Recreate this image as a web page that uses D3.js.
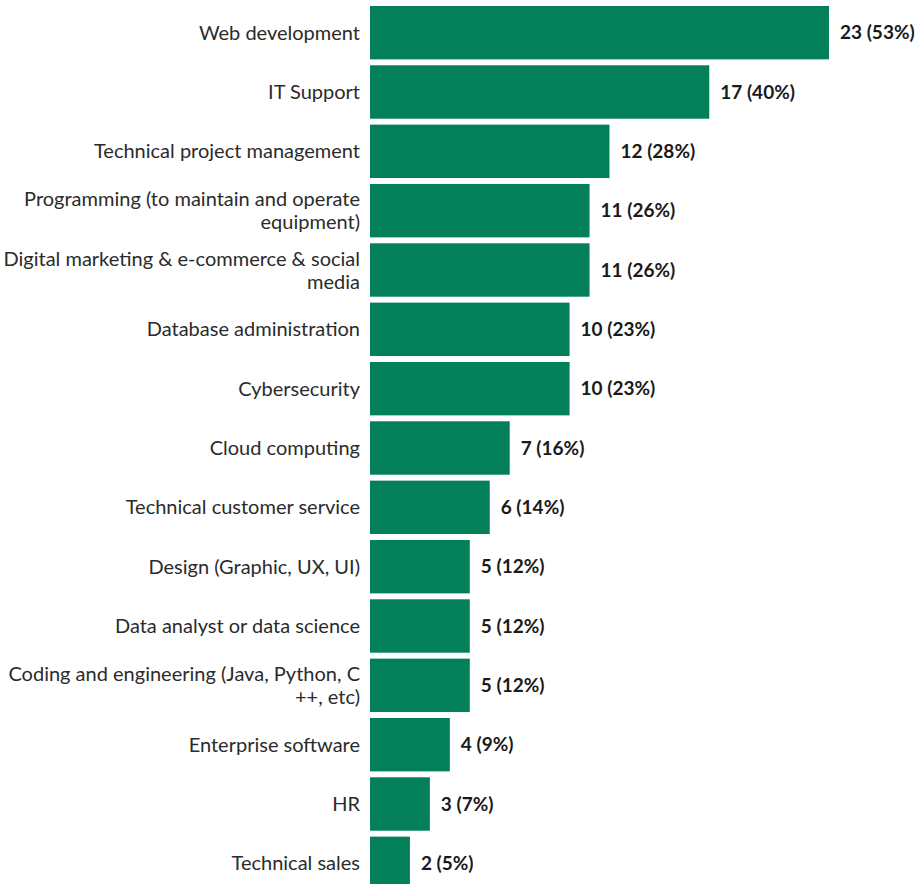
<!DOCTYPE html>
<html>
<head>
<meta charset="utf-8">
<script src="https://cdn.jsdelivr.net/npm/d3@7"></script>
<style>
  html, body { margin: 0; padding: 0; background: #fff; }
  svg { display: block; }
  text { font-family: Lato, "Noto Sans", sans-serif; }
</style>
</head>
<body>
<svg id="chart" width="919" height="884"></svg>
<script>
// Skill areas (label lines separated by "\n"), counts and shares
const categories = [
  "Web development",
  "IT Support",
  "Technical project management",
  "Programming (to maintain and operate\nequipment)",
  "Digital marketing & e-commerce & social\nmedia",
  "Database administration",
  "Cybersecurity",
  "Cloud computing",
  "Technical customer service",
  "Design (Graphic, UX, UI)",
  "Data analyst or data science",
  "Coding and engineering (Java, Python, C\n++, etc)",
  "Enterprise software",
  "HR",
  "Technical sales"
];
const counts = [23, 17, 12, 11, 11, 10, 10, 7, 6, 5, 5, 5, 4, 3, 2];
const percents = [53, 40, 28, 26, 26, 23, 23, 16, 14, 12, 12, 12, 9, 7, 5];

const data = categories.map((c, i) => ({ cat: c, count: counts[i], pct: percents[i] }));

const svg = d3.select("#chart");
const barColor = "#037f5a";

const x = d3.scaleLinear().domain([0, 23]).range([370, 829]);
const y = d3.scaleBand()
  .domain(categories)
  .range([3, 893])
  .paddingInner(0.1)
  .paddingOuter(0.05);

// bars
svg.append("g")
  .selectAll("rect")
  .data(data)
  .join("rect")
  .attr("x", x(0))
  .attr("y", d => y(d.cat))
  .attr("width", d => x(d.count) - x(0))
  .attr("height", y.bandwidth())
  .attr("fill", barColor);

// category labels on the left
const fontSize = 20;
const lineH = 23;
const labels = svg.append("g")
  .selectAll("text")
  .data(data)
  .join("text")
  .attr("text-anchor", "end")
  .attr("font-size", fontSize)
  .attr("fill", "#2b2b2b")
  .attr("x", x(0) - 10);

labels.each(function(d) {
  const lines = d.cat.split("\n");
  const cy = y(d.cat) + y.bandwidth() / 2;
  const first = cy - (lines.length - 1) * lineH / 2;
  const t = d3.select(this);
  lines.forEach((ln, k) => {
    t.append("tspan")
      .attr("x", x(0) - 10)
      .attr("y", first + k * lineH)
      .attr("dy", "0.35em")
      .text(ln);
  });
});

// value labels at bar ends
svg.append("g")
  .selectAll("text")
  .data(data)
  .join("text")
  .attr("x", d => x(d.count) + 11)
  .attr("y", d => y(d.cat) + y.bandwidth() / 2)
  .attr("dy", "0.35em")
  .attr("font-size", 19)
  .attr("font-weight", 700)
  .attr("fill", "#1a1a1a")
  .text(d => `${d.count} (${d.pct}%)`);
</script>
</body>
</html>
